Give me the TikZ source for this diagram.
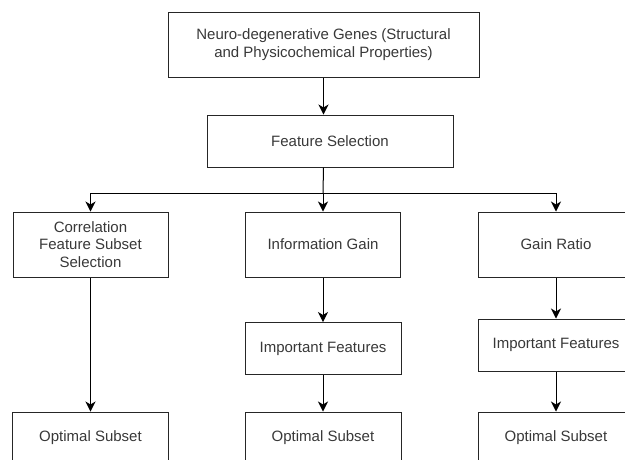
\documentclass[tikz,border=0pt]{standalone}
\usepackage{fontspec}
\setmainfont{Liberation Sans}
\usetikzlibrary{shapes.geometric, arrows.meta}

\begin{document}
\begin{tikzpicture}[x=1pt,y=-1pt,
  box/.style={draw=black!85,line width=1pt,text=black!78,align=center,inner sep=0pt,
    font=\fontsize{15}{17.5}\selectfont},
  wide/.style={box,minimum width=155,minimum height=65},
  flat/.style={box,minimum width=156,minimum height=52},
  link/.style={-{Stealth[length=10pt,width=10pt,inset=3pt]},line width=1pt}]
\useasboundingbox (0,0) rectangle (625,459);
\clip (0,0) rectangle (625,459);

\node[box,minimum width=311,minimum height=65] (A) at (323.5,44.5) {Neuro-degenerative Genes (Structural\\and Physicochemical Properties)};
\node[box,minimum width=246,minimum height=52] (B) at (330,141) {Feature Selection};

\node[wide] (C) at (90.5,244.5) {Correlation\\Feature Subset\\Selection};
\node[wide] (D) at (323,244.5) {Information Gain};
\node[wide] (E) at (556,244.5) {Gain Ratio};

\node[flat] (D2) at (323,348.5) {Important Features};
\node[flat] (E2) at (556,345) {Important Features};

\node[flat] (C3) at (90.5,438) {Optimal Subset};
\node[flat] (D3) at (323,438) {Optimal Subset};
\node[flat] (E3) at (556,438) {Optimal Subset};

\coordinate (J) at (323,193);
\draw[link] (A.south) -- (A.south |- B.north);
\draw[line width=1pt] (A.south |- B.south) -- (J);
\draw[link] (J) -| (C.north);
\draw[link] (J) -- (D.north);
\draw[link] (J) -| (E.north);

\draw[link] (C) -- (C3);
\draw[link] (D) -- (D2);
\draw[link] (D2) -- (D3);
\draw[link] (E) -- (E2);
\draw[link] (E2) -- (E3);
\end{tikzpicture}
\end{document}
